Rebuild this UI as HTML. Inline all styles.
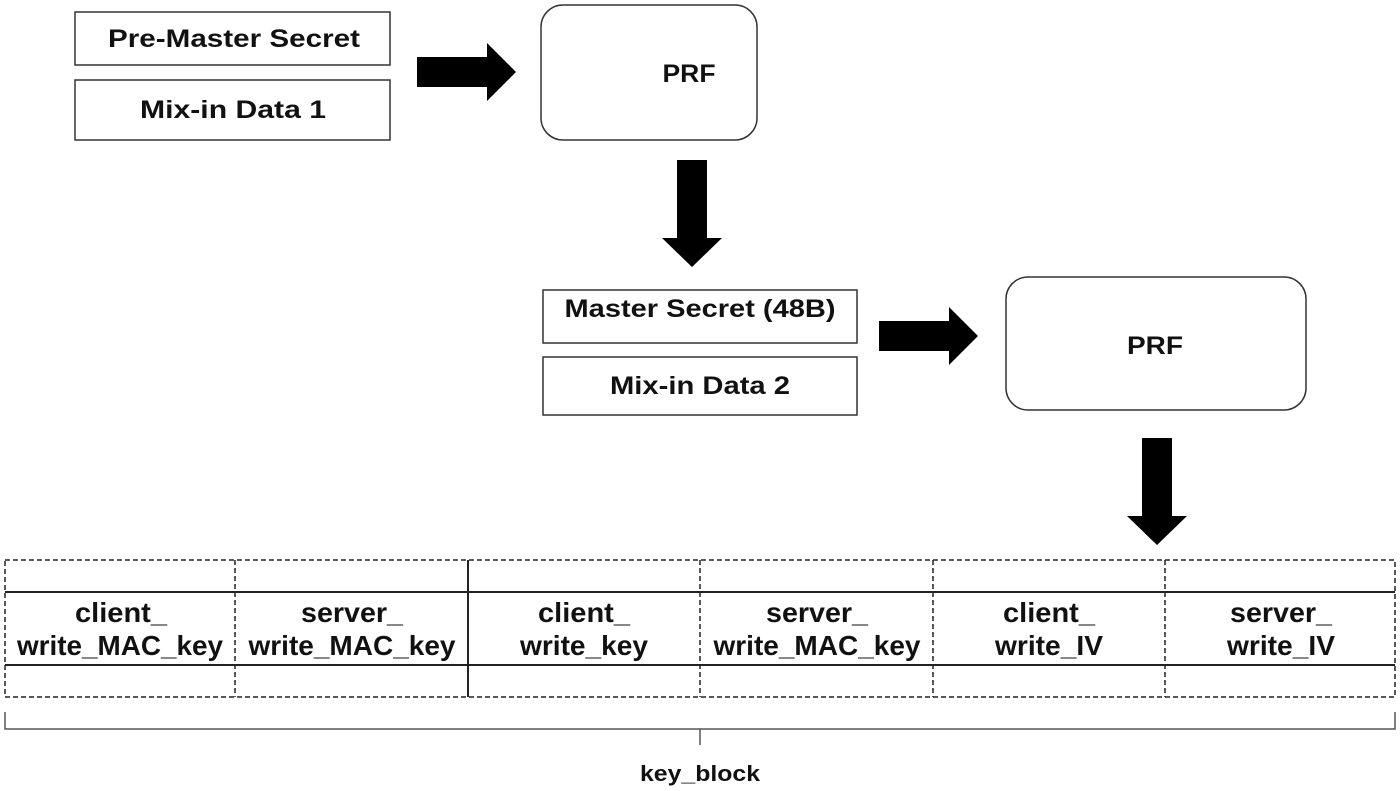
<!DOCTYPE html>
<html><head><meta charset="utf-8"><style>
html,body{margin:0;padding:0;background:#fff;}
svg{display:block;}
text{font-family:"Liberation Sans",Arial,sans-serif;font-weight:bold;fill:#111;text-anchor:middle;}
</style></head><body>
<svg width="1400" height="791" viewBox="0 0 1400 791" xmlns="http://www.w3.org/2000/svg">
<g fill="none" stroke="#333" stroke-width="1.5">
<rect x="75" y="12" width="315" height="53"/>
<rect x="75" y="80" width="315" height="60"/>
<rect x="541" y="5" width="216" height="135" rx="22"/>
<rect x="543" y="290" width="314" height="53"/>
<rect x="543" y="357" width="314" height="58"/>
<rect x="1006" y="277" width="300" height="133" rx="22"/>
</g>
<text x="234" y="47" font-size="25" textLength="252" lengthAdjust="spacingAndGlyphs">Pre-Master Secret</text>
<text x="233" y="118" font-size="25" textLength="186" lengthAdjust="spacingAndGlyphs">Mix-in Data 1</text>
<text x="689" y="82" font-size="25" textLength="53" lengthAdjust="spacingAndGlyphs">PRF</text>
<text x="700" y="317" font-size="25" textLength="271" lengthAdjust="spacingAndGlyphs">Master Secret (48B)</text>
<text x="700" y="394" font-size="25" textLength="180" lengthAdjust="spacingAndGlyphs">Mix-in Data 2</text>
<text x="1155" y="354" font-size="25" textLength="56" lengthAdjust="spacingAndGlyphs">PRF</text>
<g fill="#000">
<polygon points="417,57 487,57 487,43 516,72 487,101 487,87 417,87"/>
<polygon points="677,160 707,160 707,238 722,238 692,267 662,238 677,238"/>
<polygon points="879,321 949,321 949,307 978,336 949,365 949,351 879,351"/>
<polygon points="1142,438 1172,438 1172,516 1187,516 1157,545 1127,516 1142,516"/>
</g>
<g fill="none" stroke="#222" stroke-width="1.5" stroke-dasharray="5,3">
<rect x="5" y="560" width="1390" height="137"/>
<line x1="235" y1="560" x2="235" y2="697"/>
<line x1="700" y1="560" x2="700" y2="697"/>
<line x1="933" y1="560" x2="933" y2="697"/>
<line x1="1165" y1="560" x2="1165" y2="697"/>
</g>
<g stroke="#222" stroke-width="2" fill="none">
<line x1="5" y1="592" x2="1395" y2="592"/>
<line x1="5" y1="665" x2="1395" y2="665"/>
<line x1="468" y1="560" x2="468" y2="697"/>
<polyline points="5,712 5,729 1395,729 1395,712" stroke-width="1.5" stroke="#555"/>
<line x1="700" y1="729" x2="700" y2="745" stroke-width="1.5" stroke="#555"/>
</g>
<g font-size="28" lengthAdjust="spacingAndGlyphs">
<text x="121" y="622" textLength="92" lengthAdjust="spacingAndGlyphs">client_</text><text x="120" y="655" textLength="206" lengthAdjust="spacingAndGlyphs">write_MAC_key</text>
<text x="352" y="622" textLength="102" lengthAdjust="spacingAndGlyphs">server_</text><text x="352" y="655" textLength="207" lengthAdjust="spacingAndGlyphs">write_MAC_key</text>
<text x="584" y="622" textLength="92" lengthAdjust="spacingAndGlyphs">client_</text><text x="584" y="655" textLength="128" lengthAdjust="spacingAndGlyphs">write_key</text>
<text x="817" y="622" textLength="102" lengthAdjust="spacingAndGlyphs">server_</text><text x="817" y="655" textLength="207" lengthAdjust="spacingAndGlyphs">write_MAC_key</text>
<text x="1049" y="622" textLength="92" lengthAdjust="spacingAndGlyphs">client_</text><text x="1049" y="655" textLength="108" lengthAdjust="spacingAndGlyphs">write_IV</text>
<text x="1281" y="622" textLength="102" lengthAdjust="spacingAndGlyphs">server_</text><text x="1281" y="655" textLength="108" lengthAdjust="spacingAndGlyphs">write_IV</text>
</g>
<text x="700" y="781" font-size="22" textLength="120" lengthAdjust="spacingAndGlyphs">key_block</text>
</svg>
</body></html>
